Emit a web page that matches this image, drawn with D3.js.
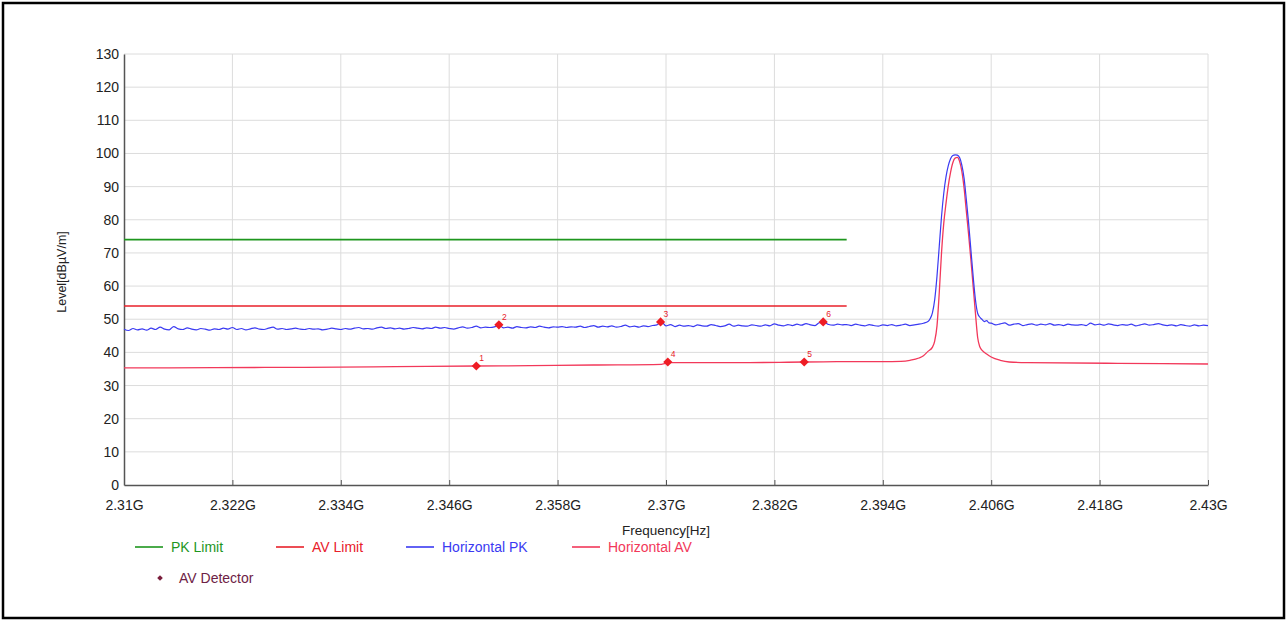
<!DOCTYPE html>
<html>
<head>
<meta charset="utf-8">
<script src="https://cdn.jsdelivr.net/npm/d3@7"></script>
<style>
  body { margin: 0; background: #fff; }
  svg { display: block; font-family: "Liberation Sans", Arial, sans-serif; }
</style>
</head>
<body>
<svg class="emiChart" width="1287" height="621"></svg>
<script>
// x ticks (MHz) and their labels
var xTicks = [2310, 2322, 2334, 2346, 2358, 2370, 2382, 2394, 2406, 2418, 2430];
var xTickLabels = ["2.31G", "2.322G", "2.334G", "2.346G", "2.358G", "2.37G", "2.382G", "2.394G", "2.406G", "2.418G", "2.43G"];
var yTicks = [0, 10, 20, 30, 40, 50, 60, 70, 80, 90, 100, 110, 120, 130];

// limits (MHz, dBuV/m)
var pkLimit = [[2310, 74], [2390, 74]];
var avLimit = [[2310, 54], [2390, 54]];

// Horizontal PK sweep, left part: 2310.0 .. 2398.5 MHz, 0.5 MHz steps
var pkLeftStart = 2310, pkStep = 0.5;
var pkLeft = [
  47.0, 46.6, 47.2, 46.8, 47.1, 46.7, 47.3, 46.9, 47.6, 47.0, 46.8, 47.8, 47.1, 46.9, 47.4, 47.0, 46.8, 47.2, 47.0, 46.7,
  47.1, 46.9, 47.3, 47.0, 47.5, 46.9, 47.2, 46.8, 47.1, 47.4, 47.0, 46.9, 47.3, 47.6, 47.0, 47.2, 46.9, 47.1, 47.3, 47.0,
  46.9, 47.2, 47.0, 47.1, 46.8, 47.0, 47.3, 47.1, 46.9, 47.2, 47.0, 47.3, 47.5, 47.1, 47.2, 47.0, 47.4, 47.6, 47.2, 47.4,
  47.1, 47.3, 47.0, 47.2, 47.5, 47.3, 47.1, 47.4, 47.2, 47.6, 47.3, 47.5, 47.2, 47.0, 47.4, 47.7, 47.3, 47.5, 47.9, 47.4,
  47.6, 47.5, 47.7, 48.3, 47.4, 47.6, 47.3, 47.8, 47.5, 47.4, 47.7, 47.5, 47.9, 47.6, 47.4, 47.7, 47.6, 47.8, 47.5, 47.7,
  47.6, 47.9, 47.5, 47.8, 48.1, 47.6, 47.9, 47.7, 48.0, 47.6, 47.8, 48.2, 47.7, 47.9, 47.6, 48.0, 47.8, 48.1, 48.3, 49.2,
  48.0, 48.4, 47.8, 48.2, 47.9, 48.1, 47.8, 48.3, 48.0, 47.9, 48.4, 48.1, 47.8, 48.0, 48.5, 47.9, 48.2, 48.0, 47.9, 48.3,
  48.1, 47.9, 48.3, 48.0, 48.6, 48.2, 48.0, 48.4, 48.1, 48.5, 48.2, 48.7, 48.3, 48.1, 49.0, 49.1, 48.4, 48.2, 48.5, 48.3,
  48.4, 48.1, 48.5, 48.2, 48.0, 48.4, 48.1, 47.9, 48.3, 48.1, 48.4, 48.0, 48.2, 48.5, 48.1, 48.3, 48.5, 48.8
];
// Horizontal PK around the carrier (MHz, dBuV/m)
var pkPeak = [
  [2399.0, 49.3], [2399.25, 50.2], [2399.5, 52], [2399.75, 56], [2400.0, 63], [2400.25, 72], [2400.5, 81],
  [2400.75, 88], [2401.0, 93], [2401.25, 96.3], [2401.5, 98.4], [2401.75, 99.4], [2402.0, 99.6], [2402.25, 99.5],
  [2402.5, 98.8], [2402.75, 96.5], [2403.0, 92.5], [2403.25, 86], [2403.5, 79], [2403.75, 71], [2404.0, 63],
  [2404.25, 56], [2404.5, 51.8], [2404.75, 50.6], [2405.0, 49.9], [2405.25, 49.3], [2405.5, 49.6], [2405.75, 48.9]
];
// Horizontal PK right part: 2406.0 .. 2430.0 MHz, 0.5 MHz steps
var pkRightStart = 2406;
var pkRight = [
  48.8, 48.3, 48.6, 48.9, 48.2, 48.5, 48.7, 48.1, 48.4, 48.6, 48.2, 48.5, 48.3, 48.7, 48.2, 48.4, 48.1, 48.5, 48.3, 48.2,
  48.4, 48.1, 48.8, 48.3, 48.5, 48.2, 48.6, 48.3, 48.1, 48.4, 48.2, 48.5, 48.0, 48.3, 48.6, 48.2, 48.4, 48.7, 48.3, 48.1,
  48.3, 48.0, 48.4, 48.1, 47.9, 48.3, 48.0, 48.2, 48.1
];

// Horizontal AV trace (MHz, dBuV/m)
var avTrace = [
  [2310, 35.3], [2320, 35.4], [2330, 35.5], [2340, 35.7], [2349, 35.9], [2355, 36.0], [2362, 36.2], [2369.5, 36.4],
  [2370.5, 36.9], [2378, 36.9], [2385.3, 37.1], [2390, 37.2], [2394, 37.2], [2396, 37.3], [2397, 37.6], [2398, 38.3],
  [2398.5, 39.0], [2399, 40.3], [2399.5, 41.6], [2399.75, 43.5], [2400, 48], [2400.25, 58], [2400.5, 70], [2400.75, 79],
  [2401, 85], [2401.25, 90.3], [2401.5, 94.3], [2401.75, 97.2], [2402, 98.6], [2402.25, 98.8], [2402.5, 97.6],
  [2402.75, 94.6], [2403, 89.5], [2403.25, 82.5], [2403.5, 75.5], [2403.75, 68], [2404, 60], [2404.25, 52],
  [2404.5, 44.5], [2404.75, 41.6], [2405, 40.6], [2405.5, 39.5], [2406, 38.6], [2407, 37.6], [2408, 37.1],
  [2410, 36.9], [2420, 36.7], [2430, 36.5]
];

// AV detector readings
var markerIds = [1, 2, 3, 4, 5, 6];
var markerFreq = [2349.0, 2351.5, 2369.4, 2370.2, 2385.3, 2387.4];
var markerLevel = [35.9, 48.3, 49.2, 37.1, 37.1, 49.2];

var legendNames = ["PK Limit", "AV Limit", "Horizontal PK", "Horizontal AV"];

renderChart();

function renderChart() {
    var svg = d3.select(".emiChart");

    var x = d3.scaleLinear().domain([2310, 2430]).range([124, 1208]),
        y = d3.scaleLinear().domain([0, 130]).range([485, 54]);

    // outer frame
    svg.append("rect")
        .attr("x", 3).attr("y", 3)
        .attr("width", 1281).attr("height", 615)
        .attr("fill", "none")
        .attr("stroke", "#000")
        .attr("stroke-width", 2.5);

    // grid
    svg.append("g").selectAll("line")
        .data(yTicks.slice(1))
        .enter().append("line")
        .attr("x1", x(2310)).attr("x2", x(2430))
        .attr("y1", function (d) { return y(d); })
        .attr("y2", function (d) { return y(d); })
        .attr("stroke", "#dcdcdc");
    svg.append("g").selectAll("line")
        .data(xTicks.slice(1))
        .enter().append("line")
        .attr("x1", function (d) { return x(d); })
        .attr("x2", function (d) { return x(d); })
        .attr("y1", y(0)).attr("y2", y(130))
        .attr("stroke", "#dcdcdc");

    // axes
    var xAxis = svg.append("g")
        .attr("transform", "translate(0," + y(0) + ")")
        .call(d3.axisBottom(x)
            .tickValues(xTicks)
            .tickFormat(function (d, i) { return xTickLabels[i]; })
            .tickSize(-5)
            .tickPadding(15)
            .tickSizeOuter(0));
    xAxis.select(".domain").attr("stroke", "#555").attr("stroke-width", 1.5);
    xAxis.selectAll(".tick line").attr("stroke", "#555");
    xAxis.selectAll("text").attr("font-size", 14).attr("fill", "#222").attr("font-family", "Liberation Sans, Arial");

    var yAxis = svg.append("g")
        .attr("transform", "translate(" + x(2310) + ",0)")
        .call(d3.axisLeft(y)
            .tickValues(yTicks)
            .tickSize(0)
            .tickPadding(5));
    yAxis.select(".domain").attr("stroke", "#555").attr("stroke-width", 1.5);
    yAxis.selectAll("text").attr("font-size", 14).attr("fill", "#222").attr("font-family", "Liberation Sans, Arial");

    // axis titles
    svg.append("text")
        .attr("transform", "translate(66,272) rotate(-90)")
        .attr("text-anchor", "middle")
        .attr("font-size", 12.5)
        .attr("fill", "#222")
        .text("Level[dBµV/m]");

    var line = d3.line()
        .x(function (d) { return x(d[0]); })
        .y(function (d) { return y(d[1]); });

    // limits
    svg.append("path").datum(pkLimit)
        .attr("d", line).attr("fill", "none")
        .attr("stroke", "#1e961e").attr("stroke-width", 1.6);
    svg.append("path").datum(avLimit)
        .attr("d", line).attr("fill", "none")
        .attr("stroke", "#e8202a").attr("stroke-width", 1.6);

    // PK trace
    var pkData = [];
    pkLeft.forEach(function (v, i) { pkData.push([pkLeftStart + i * pkStep, v]); });
    pkPeak.forEach(function (p) { pkData.push(p); });
    pkRight.forEach(function (v, i) { pkData.push([pkRightStart + i * pkStep, v]); });

    svg.append("path").datum(avTrace)
        .attr("d", line.curve(d3.curveMonotoneX)).attr("fill", "none")
        .attr("stroke", "#f2385a").attr("stroke-width", 1.3);

    svg.append("path").datum(pkData)
        .attr("d", line.curve(d3.curveMonotoneX)).attr("fill", "none")
        .attr("stroke", "#3a3af2").attr("stroke-width", 1.2);

    // AV detector markers
    var marks = svg.append("g").selectAll("g")
        .data(markerIds)
        .enter().append("g")
        .attr("transform", function (d, i) {
            return "translate(" + x(markerFreq[i]) + "," + y(markerLevel[i]) + ")";
        });
    marks.append("path")
        .attr("d", d3.symbol(d3.symbolSquare, 42))
        .attr("transform", "rotate(45)")
        .attr("fill", "#ee1c24");
    marks.append("text")
        .attr("x", 3).attr("y", -5)
        .attr("font-size", 8.5)
        .attr("fill", "#e8202a")
        .text(function (d) { return d; });

    svg.append("text")
        .attr("x", 666).attr("y", 535)
        .attr("text-anchor", "middle")
        .attr("font-size", 13.5)
        .attr("fill", "#222")
        .text("Frequency[Hz]");

    // legend
    var legendColors = ["#1e961e", "#e8202a", "#3a3af2", "#f2385a"];
    var legendX = [135, 276, 406, 572];
    var leg = svg.append("g").selectAll("g")
        .data(legendNames)
        .enter().append("g")
        .attr("transform", function (d, i) { return "translate(" + legendX[i] + ",547)"; });
    leg.append("line")
        .attr("x1", 0).attr("x2", 28)
        .attr("stroke", function (d, i) { return legendColors[i]; })
        .attr("stroke-width", 1.6);
    leg.append("text")
        .attr("x", 36).attr("dy", "0.36em")
        .attr("font-size", 14)
        .attr("fill", function (d, i) { return legendColors[i]; })
        .text(function (d) { return d; });

    var det = svg.append("g").attr("transform", "translate(160,578)");
    det.append("path")
        .attr("d", d3.symbol(d3.symbolSquare, 16))
        .attr("transform", "rotate(45)")
        .attr("fill", "#7a1e3c");
    det.append("text")
        .attr("x", 19).attr("dy", "0.36em")
        .attr("font-size", 14)
        .attr("fill", "#6e2245")
        .text("AV Detector");
}
</script>
</body>
</html>
